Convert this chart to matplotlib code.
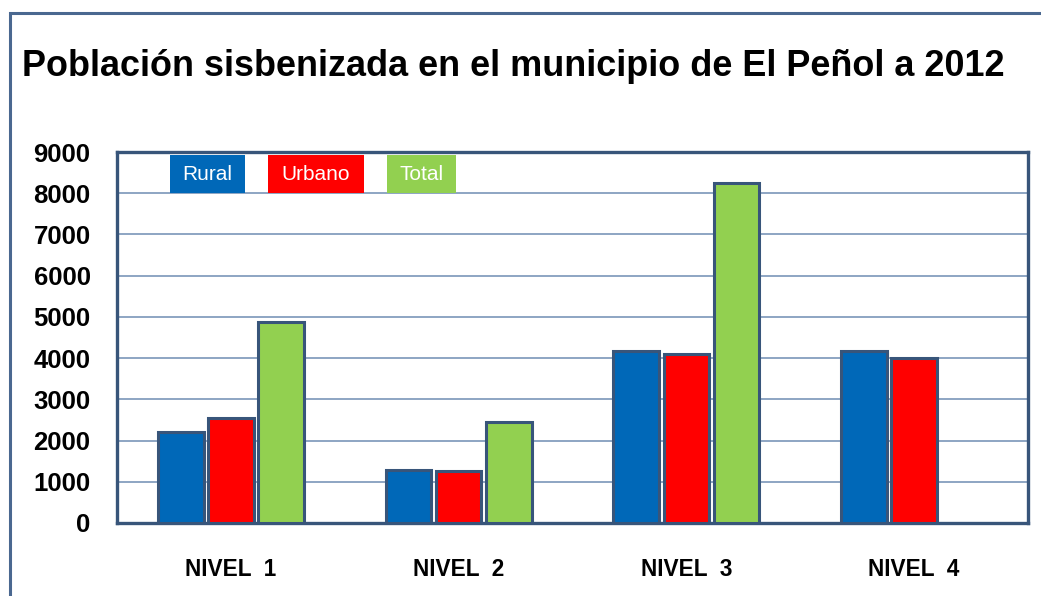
import matplotlib
matplotlib.use('Agg')
import matplotlib.pyplot as plt
from matplotlib.patches import Rectangle
import numpy as np

plt.rcParams['font.family'] = ['Liberation Sans', 'DejaVu Sans']

niveles = ['NIVEL 1', 'NIVEL 2', 'NIVEL 3', 'NIVEL 4']
rural = [2210, 1290, 4175, 4175]
urbano = [2550, 1260, 4100, 4000]
total = [4880, 2450, 8250, 0]
series = ['Rural', 'Urbano', 'Total']
colores = ['#0068B8', '#FF0000', '#92D050']

borde = '#38557A'

fig = plt.figure(figsize=(10.41, 5.96), dpi=100)
# marco exterior
fig.patches.append(Rectangle((10 / 1041, -0.05), 1.1, 1 - 13 / 596 + 0.05,
                             transform=fig.transFigure, fill=False,
                             edgecolor='#4A6890', linewidth=2.2, zorder=0))

ax = fig.add_axes([117 / 1041, 1 - 523 / 596, 911 / 1041, 371 / 596])

x = np.arange(len(niveles))
w = 0.2
paso = 0.22
for i, (vals, col) in enumerate(zip([rural, urbano, total], colores)):
    v = np.array(vals)
    ok = v > 0
    ax.bar(x[ok] + (i - 1) * paso, v[ok], width=w, color=col,
           edgecolor=borde, linewidth=2.2, zorder=3)

ax.set_ylim(0, 9000)
ax.set_xlim(-0.5, 3.5)
ax.set_yticks(range(0, 9001, 1000))
ax.set_yticklabels([str(t) for t in range(0, 9001, 1000)],
                   fontsize=18.5, fontweight='bold')
ax.set_xticks(x)
ax.set_xticklabels([n.replace(' ', '  ') for n in niveles],
                   fontsize=16.3, fontweight='bold')
ax.tick_params(axis='y', length=0, pad=19)
ax.tick_params(axis='x', length=0, pad=25)
ax.grid(axis='y', color='#6F8DB3', linewidth=1.1, zorder=0)
for s in ax.spines.values():
    s.set_color(borde)
    s.set_linewidth(2.4)

# leyenda como cajas de color
cajas = [(0.058, 0.083), (0.166, 0.105), (0.296, 0.076)]
for nombre, col, (x0, bw) in zip(series, colores, cajas):
    ax.add_patch(Rectangle((x0, 0.889), bw, 0.102, transform=ax.transAxes,
                           facecolor=col, edgecolor='none', zorder=5))
    ax.text(x0 + bw / 2, 0.94, nombre, transform=ax.transAxes, color='white',
            fontsize=15, ha='center', va='center', zorder=6)

fig.text(22 / 1041, 1 - 67 / 596,
         'Población sisbenizada en el municipio de El Peñol a 2012',
         fontsize=25.9, fontweight='bold', ha='left', va='center')

fig.savefig('out.png', dpi=100, facecolor='white')
